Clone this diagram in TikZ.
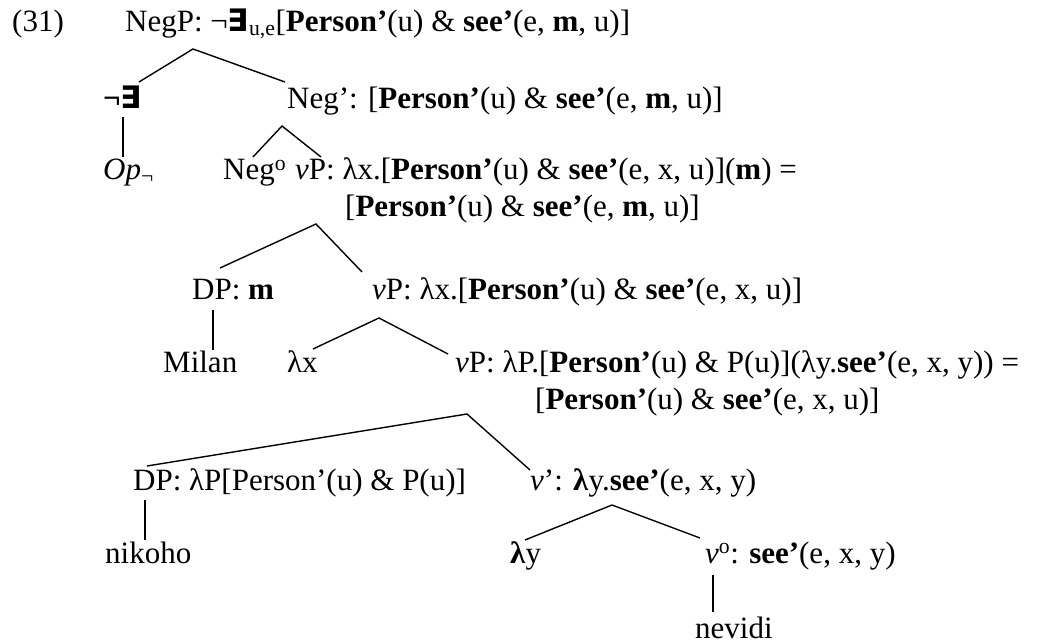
\documentclass[tikz,border=0pt]{standalone}
\usepackage{fontspec}
\setmainfont{Liberation Serif}
\newfontfamily\dvs{DejaVu Sans}
\newcommand{\Ex}{{\dvs\bfseries ∃}}
\begin{document}
\begin{tikzpicture}[x=1pt,y=-1pt,
  lbl/.style={anchor=base west,inner sep=0pt,font=\fontsize{31}{37}\selectfont},
  br/.style={line width=1.4pt}]
\useasboundingbox (0,0) rectangle (1055,644);
% labels
\node[lbl] (ex) at (12,32) {(31)};
\node[lbl] (negp) at (125,32) {NegP: ¬\Ex\textsubscript{u,e}[\textbf{Person’}(u) \& \textbf{see’}(e, \textbf{m}, u)]};
\node[lbl] (opx) at (103,109) {\textbf{¬}\Ex};
\node[lbl] (negbar) at (287,109) {Neg’: [\textbf{Person’}(u) \& \textbf{see’}(e, \textbf{m}, u)]};
\node[lbl] (opn) at (103,180) {\textit{Op}\textsubscript{¬}};
\node[lbl] (neg0) at (223,180) {Neg\textsuperscript{o}};
\node[lbl] (vp1) at (295,180) {\textit{v}P: λx.[\textbf{Person’}(u) \& \textbf{see’}(e, x, u)](\textbf{m}) =};
\node[lbl] (vp1b) at (345,217) {[\textbf{Person’}(u) \& \textbf{see’}(e, \textbf{m}, u)]};
\node[lbl] (dpm) at (192,300) {DP: \textbf{m}};
\node[lbl] (vp2) at (372,300) {\textit{v}P: λx.[\textbf{Person’}(u) \& \textbf{see’}(e, x, u)]};
\node[lbl] (milan) at (163,372) {Milan};
\node[lbl] (lx) at (287,372) {λx};
\node[lbl] (vp3) at (455,372) {\textit{v}P: λP.[\textbf{Person’}(u) \& P(u)](λy.\textbf{see’}(e, x, y)) =};
\node[lbl] (vp3b) at (535,409) {[\textbf{Person’}(u) \& \textbf{see’}(e, x, u)]};
\node[lbl] (dpp) at (133,490) {DP: λP[Person’(u) \& P(u)]};
\node[lbl] (vbar) at (530,490) {\textit{v}’: \textbf{λ}y.\textbf{see’}(e, x, y)};
\node[lbl] (nik) at (105,563) {nikoho};
\node[lbl] (ly) at (510,563) {\textbf{λ}y};
\node[lbl] (v0) at (705,563) {\textit{v}\textsuperscript{o}: \textbf{see’}(e, x, y)};
\node[lbl] (nev) at (695,638) {nevidi};
% branch points
\coordinate (negp-a) at (193,49);
\coordinate (opx-t) at (139,82);
\coordinate (negbar-t) at (285,82);
\coordinate (opx-b) at (123,117);
\coordinate (opn-t) at (123,157);
\coordinate (negbar-a) at (282,126);
\coordinate (neg0-t) at (253,157);
\coordinate (vp1-t) at (321,157);
\coordinate (vp1-a) at (316,224);
\coordinate (dpm-t) at (220,268);
\coordinate (vp2-t) at (362,272);
\coordinate (dpm-b) at (213,310);
\coordinate (milan-t) at (213,350);
\coordinate (vp2-a) at (379,318);
\coordinate (lx-t) at (313,349);
\coordinate (vp3-t) at (448,354);
\coordinate (vp3-a) at (467,414);
\coordinate (dpp-t) at (147,466);
\coordinate (vbar-t) at (530,470);
\coordinate (dpp-b) at (145,500);
\coordinate (nik-t) at (145,540);
\coordinate (vbar-a) at (612,505);
\coordinate (ly-t) at (525,540);
\coordinate (v0-t) at (700,538);
\coordinate (v0-b) at (713,575);
\coordinate (nev-t) at (713,612);
% branches
\draw[br] (opx-t) -- (negp-a) -- (negbar-t);
\draw[br] (opx-b) -- (opn-t);
\draw[br] (neg0-t) -- (negbar-a) -- (vp1-t);
\draw[br] (dpm-t) -- (vp1-a) -- (vp2-t);
\draw[br] (dpm-b) -- (milan-t);
\draw[br] (lx-t) -- (vp2-a) -- (vp3-t);
\draw[br] (dpp-t) -- (vp3-a) -- (vbar-t);
\draw[br] (dpp-b) -- (nik-t);
\draw[br] (ly-t) -- (vbar-a) -- (v0-t);
\draw[br] (v0-b) -- (nev-t);
\end{tikzpicture}
\end{document}
